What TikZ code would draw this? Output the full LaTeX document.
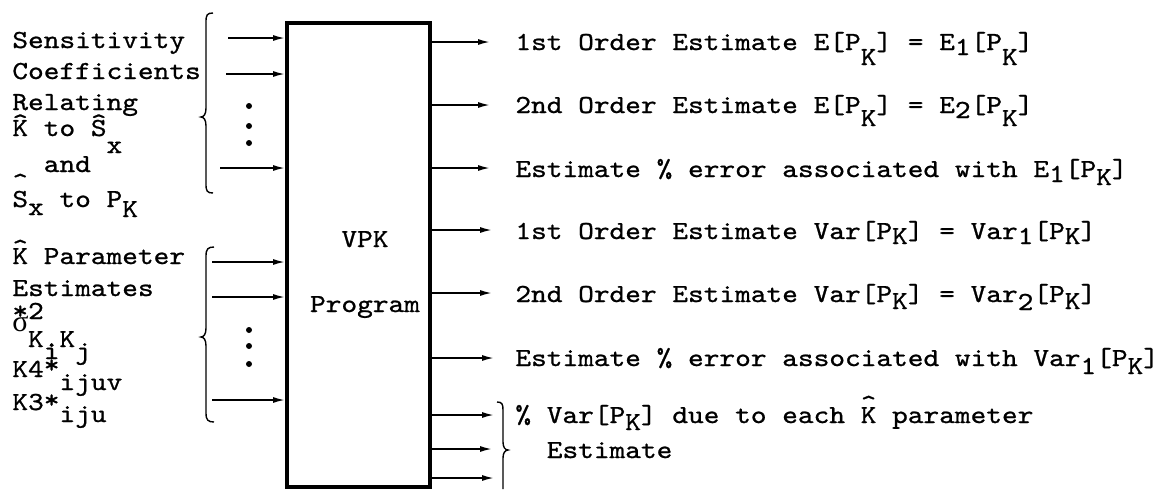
\documentclass[tikz,border=0pt]{standalone}
\usepackage{fontspec}
\usetikzlibrary{arrows.meta}
% typewriter face, widened to the pitch of the typed sheet
\newfontfamily\tw{lmmono10-regular}[Extension=.otf, FakeStretch=1.15, FakeBold=0.9]
\newfontfamily\grk{Liberation Serif}
% lowered (typed) subscript and a raised circumflex over a letter
\newcommand\dn[2]{\raisebox{-#1}{#2}}
\newcommand\hatat[2]{\rlap{\raisebox{#1}{\textasciicircum}}#2}
\begin{document}
\begin{tikzpicture}[x=0.5pt,y=-0.5pt,
  txt/.style={anchor=base west, inner sep=0pt, font=\tw\fontsize{13}{15}\selectfont\frenchspacing},
  ctxt/.style={txt, anchor=base},
  arr/.style={line width=0.8pt, -{Latex[length=6pt,width=3pt]}},
  brc/.style={line width=0.7pt},
  dot/.style={circle, fill, inner sep=0pt, minimum size=3pt},
  prog/.style={draw, line width=2pt, inner sep=0pt, minimum width=71.5pt, minimum height=232pt}]
\useasboundingbox (0,0) rectangle (1162,489);

% the program block
\node[prog] (box) at (358.5,255) {};
\node[ctxt] (vpk) at (365,247) {VPK};
\node[ctxt] (prg) at (365,312) {Program};

% first input group: sensitivity coefficients
\node[txt] (s1) at (12,48) {Sensitivity};
\node[txt] (s2) at (12,79) {Coefficients};
\node[txt] (s3) at (12,110) {Relating};
\node[txt] (s4) at (12,136) {\hatat{2.7pt}{K} to \hatat{2.7pt}{S}\dn{8.5pt}{x}};
\node[txt] (s5) at (12,172) {\hphantom{xx}and};
\node[txt] (s6) at (12,207) {\hatat{8.5pt}{S}\dn{4pt}{x} to P\dn{5pt}{K}};

\draw[brc] (213,13) .. controls (207,13) and (206,15) .. (206,22) -- (206,108)
  .. controls (206,114) and (204,117) .. (201,117)
  .. controls (204,117) and (206,120) .. (206,126) -- (206,184)
  .. controls (206,191) and (207,193) .. (213,193);
\coordinate (a1) at (228,38);
\coordinate (a2) at (226,74);
\coordinate (a3) at (220,168);
\draw[arr] (a1) -- (a1 -| box.west);
\draw[arr] (a2) -- (a2 -| box.west);
\draw[arr] (a3) -- (a3 -| box.west);
\node[dot] (d1) at (249,106) {};
\node[dot] (d2) at (249,126) {};
\node[dot] (d3) at (249,143) {};

% second input group: parameter estimates
\node[txt] (t1) at (12,264) {\hatat{4pt}{K} Parameter};
\node[txt] (t2) at (12,296) {Estimates};
\node[txt] (t3) at (12,319) {*2};
\node[txt] (t4) at (12,331) {\grk\fontsize{15}{15}\selectfont σ};
\node[txt] (t5) at (12,347) {\hphantom{x}K.K};
\node[txt] (t6) at (12,359) {\hphantom{xx}i\hphantom{x}j};
\node[txt] (t7) at (12,377) {K4\raisebox{2pt}{*}};
\node[txt] (t8) at (12,390) {\hphantom{xxx}ijuv};
\node[txt] (t9) at (12,410) {K3\raisebox{1pt}{*}};
\node[txt] (t10) at (12,422) {\hphantom{xxx}iju};

\draw[brc] (214,247) .. controls (208,247) and (206,249) .. (206,256) -- (206,328)
  .. controls (206,334) and (204,337) .. (201,337)
  .. controls (204,337) and (206,340) .. (206,346) -- (206,413)
  .. controls (206,420) and (208,422) .. (214,422);
\coordinate (b1) at (212,262);
\coordinate (b2) at (212,297);
\coordinate (b3) at (212,400);
\draw[arr] (b1) -- (b1 -| box.west);
\draw[arr] (b2) -- (b2 -| box.west);
\draw[arr] (b3) -- (b3 -| box.west);
\node[dot] (d4) at (249,330) {};
\node[dot] (d5) at (249,346) {};
\node[dot] (d6) at (249,364) {};

% outputs
\coordinate (o1) at (490,42);
\coordinate (o2) at (490,105);
\coordinate (o3) at (490,168);
\coordinate (o4) at (492,230);
\coordinate (o5) at (492,293);
\coordinate (o6) at (494,358);
\coordinate (o7) at (494,415);
\coordinate (o8) at (492,449);
\coordinate (o9) at (494,478);
\foreach \o in {o1,o2,o3,o4,o5,o6,o7,o8,o9}
  \draw[arr] (\o -| box.east) -- (\o);

\node[txt] (r1) at (515,50) {1st Order Estimate E[P\dn{7.5pt}{K}] = E\dn{2.5pt}{1}[P\dn{7.5pt}{K}]};
\node[txt] (r2) at (515,113) {2nd Order Estimate E[P\dn{6.5pt}{K}] = E\dn{2.5pt}{2}[P\dn{6.5pt}{K}]};
\node[txt] (r3) at (515,177) {Estimate \% error associated with E\dn{2.5pt}{1}[P\dn{4pt}{K}]};
\node[txt] (r4) at (515,239) {1st Order Estimate Var[P\dn{2.5pt}{K}] = Var\dn{2.5pt}{1}[P\dn{2.5pt}{K}]};
\node[txt] (r5) at (515,302) {2nd Order Estimate Var[P\dn{3.5pt}{K}] = Var\dn{4pt}{2}[P\dn{3.5pt}{K}]};
\node[txt] (r6) at (515,366) {Estimate \% error associated with Var\dn{4pt}{1}[P\dn{4pt}{K}]};
\node[txt] (r7) at (515,423) {\% Var[P\dn{3.5pt}{K}] due to each \hatat{5.5pt}{K} parameter};
\node[txt] (r8) at (515,458) {\hphantom{xx}Estimate};

\draw[brc] (497,402) .. controls (502,402) and (503,404) .. (503,410) -- (503,442)
  .. controls (503,447) and (505,450) .. (508,450)
  .. controls (505,450) and (503,453) .. (503,458) -- (503,489);
\end{tikzpicture}
\end{document}
